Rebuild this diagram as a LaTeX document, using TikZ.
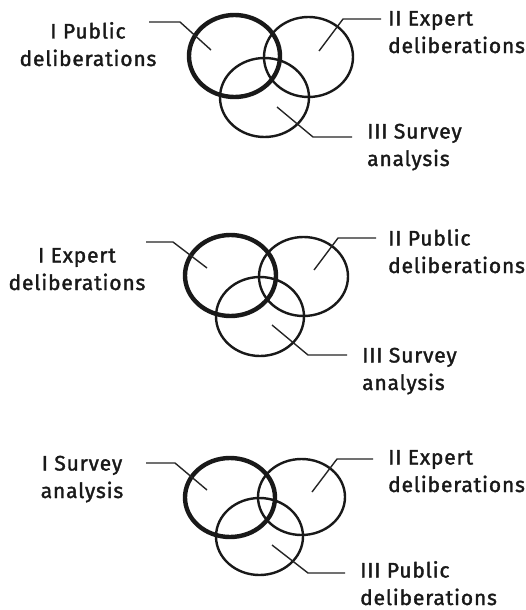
\documentclass[tikz,border=0pt]{standalone}
\usepackage{fontspec}
\setmainfont{Fira Sans}
\newfontfamily\lblfont[FakeBold=1.6,LetterSpace=4]{Fira Sans}
\usetikzlibrary{shapes.geometric}
\begin{document}
\begin{tikzpicture}[x=1pt,y=-1pt,
  ring/.style={draw=black!90,ellipse,line width=2.4pt,inner sep=0pt},
  firstring/.style={ring,line width=4.4pt},
  leader/.style={draw=black!85,line width=1.4pt},
  lbl/.style={font=\lblfont\fontsize{21}{27.5}\selectfont,inner sep=0pt,text=black!90},
  lblc/.style={lbl,align=center,anchor=base},
  lbll/.style={lbl,align=left,anchor=base west}]
\useasboundingbox[fill=white] (0,0) rectangle (526,610);

% ---- first arrangement ----
\node[firstring,minimum width=91,minimum height=82] (a1) at (234.5,56) {};
\node[ring,minimum width=89,minimum height=80] (a2) at (308.5,57) {};
\node[ring,minimum width=89,minimum height=79] (a3) at (264.5,97.5) {};
\node[lblc] (ta1) at (88,66) {I Public\\deliberations};
\node[lbll] (ta2) at (388,53) {II Expert\\deliberations};
\node[lbll] (ta3) at (367,166) {III Survey\\analysis};
\coordinate (pa1) at (211,50);
\coordinate (pa2) at (319,51);
\coordinate (pa3) at (277,107);
\draw[leader] (149,22) -- (180,22) -- (pa1);
\draw[leader] (381,19) -- (343,19) -- (pa2);
\draw[leader] (pa3) -- (313,137) -- (352,137);

% ---- second arrangement ----
\node[firstring,minimum width=91,minimum height=81] (b1) at (230.5,275.5) {};
\node[ring,minimum width=89,minimum height=79] (b2) at (303.5,276.5) {};
\node[ring,minimum width=88,minimum height=79] (b3) at (260,316.5) {};
\node[lblc] (tb1) at (77,290) {I Expert\\deliberations};
\node[lbll] (tb2) at (388,273) {II Public\\deliberations};
\node[lbll] (tb3) at (362,390) {III Survey\\analysis};
\coordinate (pb1) at (207,268);
\coordinate (pb2) at (314,270);
\coordinate (pb3) at (272,325);
\draw[leader] (146,242) -- (173,242) -- (pb1);
\draw[leader] (376,238) -- (338,238) -- (pb2);
\draw[leader] (pb3) -- (308,355) -- (347,355);

% ---- third arrangement ----
\node[firstring,minimum width=90,minimum height=79] (c1) at (230,497.5) {};
\node[ring,minimum width=87,minimum height=76] (c2) at (301.5,497) {};
\node[ring,minimum width=87,minimum height=77] (c3) at (259.5,536.5) {};
\node[lblc] (tc1) at (82,498) {I Survey\\analysis};
\node[lbll] (tc2) at (388,492) {II Expert\\deliberations};
\node[lbll] (tc3) at (360,605) {III Public\\deliberations};
\coordinate (pc1) at (207,490);
\coordinate (pc2) at (312,492);
\coordinate (pc3) at (272,545);
\draw[leader] (146,463) -- (175,463) -- (pc1);
\draw[leader] (373,459) -- (337,459) -- (pc2);
\draw[leader] (pc3) -- (308,573) -- (345,573);
\end{tikzpicture}
\end{document}
